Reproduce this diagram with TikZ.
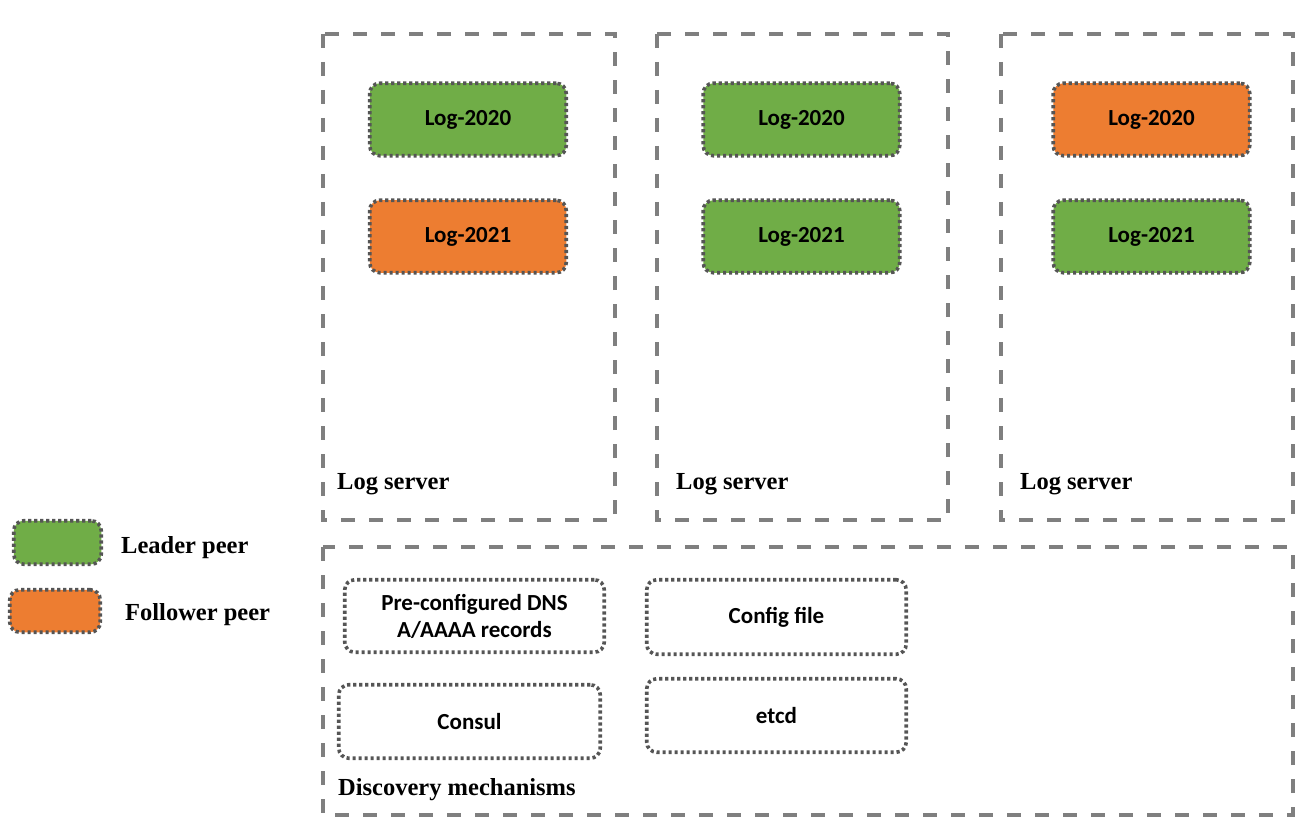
\documentclass[tikz,border=0pt]{standalone}
\usepackage{fontspec}
\setmainfont{Liberation Serif}
\newfontfamily\carlito{Carlito}
\definecolor{leadgreen}{HTML}{70AD47}
\definecolor{follorange}{HTML}{ED7D31}
\definecolor{dashgray}{HTML}{7F7F7F}
\definecolor{dotgray}{HTML}{555555}
\begin{document}
\begin{tikzpicture}[x=1pt,y=-1pt,
  groupbox/.style={draw=dashgray, line width=4pt, dash pattern=on 14pt off 14pt},
  peerbox/.style={draw=dotgray, line width=3.6pt, dash pattern=on 3.2pt off 2.8pt, rounded corners=10pt,
    inner sep=0pt, align=center, font=\carlito\bfseries\fontsize{23}{27}\selectfont},
  logbox/.style={peerbox, minimum width=196.5pt, minimum height=72.5pt},
  leader/.style={logbox, fill=leadgreen},
  follower/.style={logbox, fill=follorange},
  mechbox/.style={peerbox, fill=white},
  grouplabel/.style={anchor=base west, inner sep=0pt, font=\bfseries\fontsize{24.5}{28}\selectfont}
]
\useasboundingbox (0,0) rectangle (1312,829);

% group boxes
\draw[groupbox] (323,34) rectangle (615,520);
\draw[groupbox] (657,34) rectangle (948,520);
\draw[groupbox] (1001,34) rectangle (1293,520);
\draw[groupbox] (323,547) rectangle (1293,815);

% log server 1
\node[leader]   (s1a) at (468,119.5) {Log-2020};
\node[follower] (s1b) at (468,236.5) {Log-2021};
\node[grouplabel] (s1l) at (337,489) {Log server};

% log server 2
\node[leader] (s2a) at (801.5,119.5) {Log-2020};
\node[leader] (s2b) at (801.5,236.5) {Log-2021};
\node[grouplabel] (s2l) at (676,489) {Log server};

% log server 3
\node[follower] (s3a) at (1151.5,119.5) {Log-2020};
\node[leader]   (s3b) at (1151.5,236.5) {Log-2021};
\node[grouplabel] (s3l) at (1020,489) {Log server};

% discovery mechanisms
\node[mechbox, minimum width=259.5pt, minimum height=72.5pt] (dns) at (474.5,616) {Pre-configured DNS\\A/AAAA records};
\node[mechbox, minimum width=261.5pt, minimum height=73.5pt] (consul) at (469.5,721.5) {Consul};
\node[mechbox, minimum width=259.5pt, minimum height=74.5pt] (cfg) at (776.5,617) {Config file};
\node[mechbox, minimum width=259.5pt, minimum height=73.5pt] (etcd) at (776.5,715.5) {etcd};
\node[grouplabel] (discl) at (338,795) {Discovery mechanisms};

% legend
\node[peerbox, fill=leadgreen, minimum width=87.5pt, minimum height=43.5pt] (lg) at (57.5,542.5) {};
\node[peerbox, fill=follorange, minimum width=90.5pt, minimum height=42.5pt] (lo) at (55,611) {};
\node[grouplabel] (lgt) at (121,553) {Leader peer};
\node[grouplabel] (lot) at (125,620) {Follower peer};
\end{tikzpicture}
\end{document}
